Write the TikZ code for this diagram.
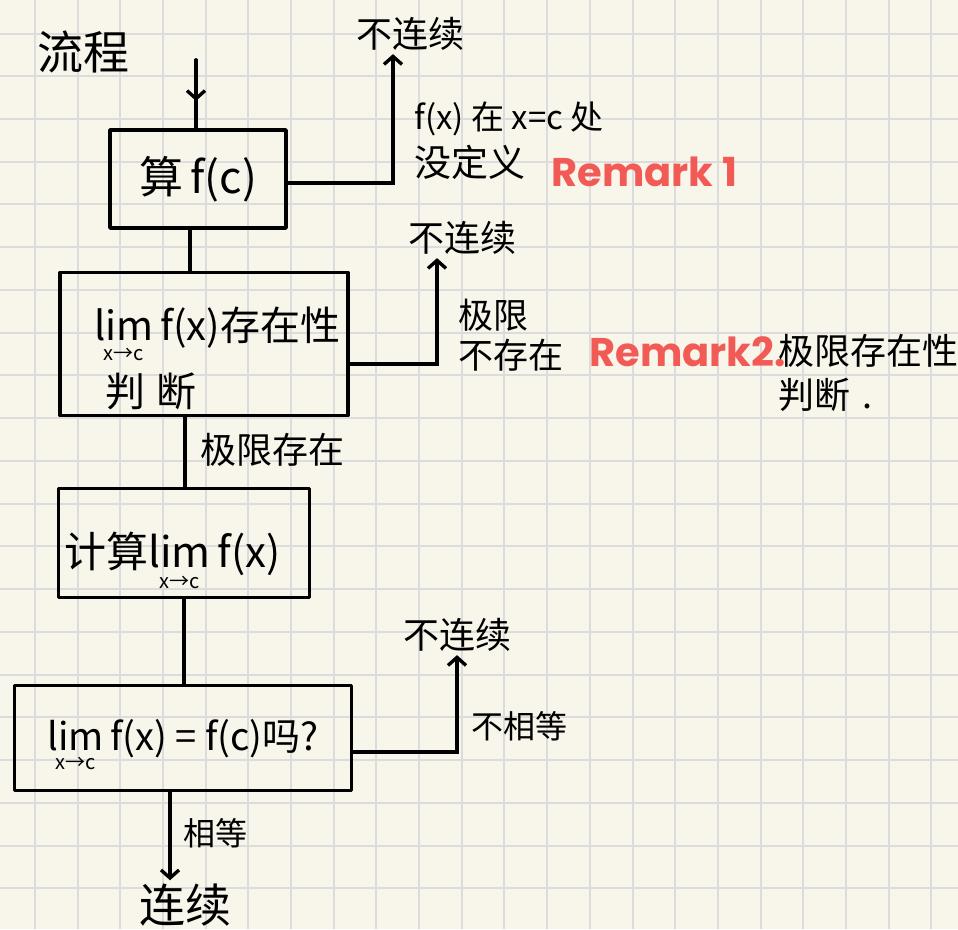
\documentclass[tikz,border=0pt]{standalone}
\usepackage{fontspec}
\setmainfont{Noto Sans CJK SC}
\newfontfamily\remfont{Poppins}
\usetikzlibrary{arrows.meta,calc}
\definecolor{paper}{HTML}{F8F6EB}
\definecolor{gridc}{HTML}{DCDCDC}
\definecolor{remred}{HTML}{F25A55}
\newcommand\limxc{\ooalign{lim\cr\hidewidth\raisebox{-0.5em}{\fontsize{20}{20}\selectfont x→c}\hidewidth\cr}}
\begin{document}
\begin{tikzpicture}[x=1pt,y=-1pt,
  box/.style={draw, line width=3.6pt, inner sep=0pt, line join=round},
  conn/.style={line width=3.4pt, line cap=round},
  arr/.style={conn, -{Straight Barb[length=8pt,width=18pt]}},
  big/.style={font=\fontsize{36}{44}\selectfont},
  mid/.style={font=\fontsize{32}{40}\selectfont},
  rem/.style={text=remred, font=\remfont\bfseries\fontsize{40}{44}\selectfont},
  gridl/.style={draw=gridc, line width=2pt}
]
\fill[paper] (0,0) rectangle (958,929);
\path[use as bounding box] (0,0) rectangle (958,929);
\foreach \i in {0,...,21} { \draw[gridl] ({35+42.68*\i},0) -- ({35+42.68*\i},929); }
\foreach \j in {0,...,20} { \draw[gridl] (0,{33.5+42.74*\j}) -- (958,{33.5+42.74*\j}); }

% nodes
\node[font=\fontsize{46}{50}\selectfont] (title) at (83,52) {流程};
\coordinate (start) at (196,60);
\node[box, minimum width=176pt, minimum height=98pt, font=\fontsize{44}{50}\selectfont] (b1) at (198,179) {算\,f(c)};
\node[big] (t1) at (410,34) {不连续};
\node[font=\fontsize{33}{40}\selectfont, anchor=west] (l1a) at (411,119) {f(x) 在 x=c 处};
\node[font=\fontsize{37}{40}\selectfont, anchor=west] (l1b) at (411,162) {没定义};
\node[rem, anchor=west] (r1) at (548,172) {Remark 1};

\node[box, minimum width=288pt, minimum height=143pt, font=\fontsize{40}{48}\selectfont, align=left, text width=288pt, text height=50pt, text depth=58pt] (b2) at (204,344)
  {\hspace*{34pt}\limxc\,f(x)存在性\\[12pt]\hspace*{45pt}判\hspace{12pt}断};
\node[big] (t2) at (462,238) {不连续};
\node[font=\fontsize{35}{40}\selectfont, anchor=west, align=left] (l2) at (455,335) {极限\\不存在};
\node[rem, anchor=west] (r2) at (586,352) {Remark2.};
\node[big, anchor=west, align=left] (n2) at (775,373) {极限存在性\\判断\,\,.};

\node[big, anchor=west] (l3) at (197,450) {极限存在};
\node[box, minimum width=251pt, minimum height=109pt, font=\fontsize{42}{48}\selectfont, align=left, text width=251pt, text height=60pt, text depth=12pt] (b3) at (184,543) {\hspace*{6pt}计算\limxc\,f(x)};
\node[box, minimum width=337pt, minimum height=105pt, font=\fontsize{38}{44}\selectfont, text height=40pt, text depth=16pt] (b4) at (183,738) {\limxc\,f(x) = f(c)吗?};
\node[big] (t3) at (457,635) {不连续};
\node[mid, anchor=west] (l4) at (468,726) {不相等};
\node[mid, anchor=west] (l5) at (180,833) {相等};
\node[font=\fontsize{46}{50}\selectfont] (t4) at (185,905) {连续};

% helper coordinates
\coordinate (s1) at ($(start)!0.6!(start |- b1.north)$);
\coordinate (e1) at ([yshift=-4pt]b1.east);
\coordinate (a1) at ([xshift=-17pt]t1.south);
\coordinate (c1) at ([xshift=-8pt]b1.south);
\coordinate (e2) at ([yshift=-20pt]b2.east);
\coordinate (a2) at ([xshift=-25pt]t2.south);
\coordinate (c2) at ([xshift=-19pt]b2.south);
\coordinate (e4) at ([yshift=-14pt]b4.east);
\coordinate (c4) at ([xshift=-13pt]b4.south);

% connectors
\draw[conn] (start) -- (start |- b1.north);
\draw[arr] (start) -- (s1);
\draw[arr] (e1) -| (a1);
\draw[conn] (c1) -- (c1 |- b2.north);
\draw[arr] (e2) -| (a2);
\draw[conn] (c2) -- (c2 |- b3.north);
\draw[conn] (b3.south) -- (b3.south |- b4.north);
\draw[arr] (e4) -| (t3.south);
\draw[arr] (c4) -- (c4 |- t4.north);
\end{tikzpicture}
\end{document}
